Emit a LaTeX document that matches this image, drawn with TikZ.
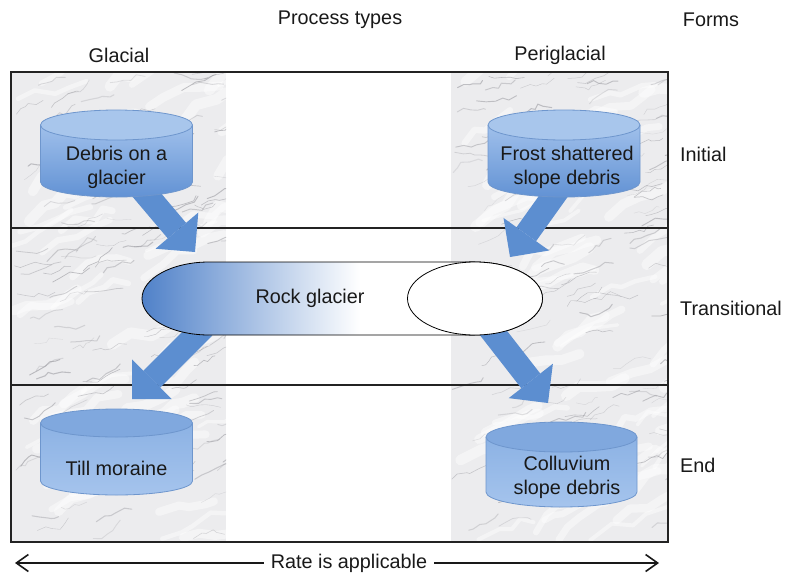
\documentclass[tikz,border=0pt]{standalone}
\usepackage{fontspec}
\setmainfont{Liberation Sans}
\usetikzlibrary{arrows.meta,shapes.geometric}
\definecolor{cyltop}{RGB}{168,198,236}
\definecolor{cyltopB}{RGB}{128,168,222}
\definecolor{cylline}{RGB}{110,150,205}
\definecolor{cylA}{RGB}{160,192,235}
\definecolor{cylB}{RGB}{98,146,212}
\definecolor{cylC}{RGB}{140,178,228}
\definecolor{cylD}{RGB}{165,196,237}
\definecolor{arrowc}{RGB}{92,142,208}
\definecolor{rgdark}{RGB}{78,128,200}
\definecolor{mbase}{RGB}{236,236,238}
\definecolor{mvein}{RGB}{150,150,156}
\definecolor{txt}{RGB}{25,25,25}
\definecolor{frame}{RGB}{35,35,35}
\newcommand\marblecol[4]{%
\begin{scope}
\clip (#1,-#2) rectangle (#3,-#4);
\fill[mbase] (#1,-#2) rectangle (#3,-#4);
\foreach \k in {1,...,60}{%
 \pgfmathsetmacro\sx{#1+(#3-#1)*rnd}%
 \pgfmathsetmacro\sy{-(#2+(#4-#2)*rnd)}%
 \pgfmathsetmacro\lw{3+8*rnd}%
 \draw[white, opacity=0.45, line width=\lw pt, line cap=round, line join=round] (\sx,\sy) -- ++({8+14*rnd},{4+14*rnd}) -- ++({8+14*rnd},{-4+14*rnd}) -- ++({8+14*rnd},{14*rnd}) -- ++({8+14*rnd},{-4+14*rnd});
}
\foreach \k in {1,...,130}{%
 \pgfmathsetmacro\sx{#1+(#3-#1)*rnd}%
 \pgfmathsetmacro\sy{-(#2+(#4-#2)*rnd)}%
 \pgfmathsetmacro\lw{0.3+0.8*rnd}%
 \pgfmathsetmacro\op{0.2+0.4*rnd}%
 \draw[mvein, opacity=\op, line width=\lw pt, line cap=round, line join=round] (\sx,\sy) -- ++({3+7*rnd},{-2+8*rnd}) -- ++({3+7*rnd},{-3+9*rnd}) -- ++({2+7*rnd},{-2+8*rnd}) -- ++({3+7*rnd},{-3+9*rnd}) -- ++({2+7*rnd},{-2+8*rnd});
}
\end{scope}}
% #1 cx, #2 top ellipse centre y, #3 bottom ellipse centre y, #4 rx, #5 ry, #6 end fill, #7 body top, #8 body bottom
\newcommand\drum[8]{%
 \shade[top color=#7, bottom color=#8] (#1-#4,-#2) -- (#1-#4,-#3) arc[start angle=180,end angle=360,x radius=#4,y radius=#5] -- (#1+#4,-#2) -- cycle;
 \draw[cylline, line width=0.8pt] (#1-#4,-#2) -- (#1-#4,-#3) arc[start angle=180,end angle=360,x radius=#4,y radius=#5] -- (#1+#4,-#2);
 \filldraw[fill=#6, draw=cylline, line width=0.8pt] (#1,-#2) ellipse[x radius=#4, y radius=#5];
}
\begin{document}
\begin{tikzpicture}[x=1pt,y=1pt,
  font=\fontsize{19.8}{24}\selectfont, text=txt,
  lbl/.style={inner sep=0pt},
  cyltext/.style={align=center, inner sep=0pt},
  blockarrow/.style={draw=arrowc, line width=24pt, -{Triangle[length=28pt,width=56pt,line width=0pt]}},
  ratearrow/.style={draw=txt, line width=1.6pt, -{Straight Barb[length=12pt,width=17pt]}},
  gridline/.style={draw=frame, line width=1.5pt}]
\useasboundingbox (0,0) rectangle (785,-576);
\fill[white] (0,0) rectangle (785,-576);
\pgfmathsetseed{4711}
\marblecol{11}{72}{226}{542}
\marblecol{451}{72}{668}{542}
% frame
\draw[gridline] (11,-72) rectangle (668,-542);
\draw[gridline] (11,-228) -- (668,-228);
\draw[gridline] (11,-385) -- (668,-385);
% named anchors for the shapes
\node[cyltext] (debris) at (116.5,-167.5) {};
\node[cyltext] (frost) at (567,-167.5) {};
\node[cyltext] (rock) at (310,-298.5) {};
\node[draw=black, line width=0.8pt, fill=white, ellipse, minimum width=135pt, minimum height=73pt, inner sep=0pt] (rgend) at (475,-298.5) {};
\coordinate (t1) at (195,-252);
\coordinate (t2) at (510,-257);
\coordinate (t3) at (132,-399);
\coordinate (t4) at (548,-403);
% arrows
\draw[blockarrow] ([xshift=23.5pt,yshift=-19.5pt]debris.center) -- (t1);
\draw[blockarrow] ([xshift=-7pt,yshift=-19.5pt]frost.center) -- (t2);
\draw[blockarrow] ([xshift=-106pt,yshift=-28.5pt]rock.center) -- (t3);
\draw[blockarrow] ([xshift=13pt,yshift=-27.5pt]rgend.center) -- (t4);
% cylinders
\drum{116.5}{125}{182}{76}{15}{cyltop}{cylA}{cylB}
\drum{564}{125}{182}{76}{15}{cyltop}{cylA}{cylB}
\drum{116.5}{423}{481}{76}{14}{cyltopB}{cylC}{cylD}
\drum{561.5}{437}{492}{75.5}{15}{cyltopB}{cylC}{cylD}
% rock glacier
\begin{scope}
\clip (475,-262) -- (209,-262) arc[start angle=90,end angle=270,x radius=67,y radius=36.5] -- (475,-335) -- cycle;
\fill[white] (140,-260) rectangle (480,-337);
\shade[left color=rgdark, right color=white] (140,-260) rectangle (360,-337);
\end{scope}
\draw[black, line width=0.8pt] (475,-262) -- (209,-262) arc[start angle=90,end angle=270,x radius=67,y radius=36.5] -- (475,-335);
\node[draw=black, line width=0.8pt, fill=white, ellipse, minimum width=135pt, minimum height=73pt, inner sep=0pt] at (rgend.center) {};
% texts
\node[cyltext] at (debris.center) {Debris on a\\glacier};
\node[cyltext] at (frost.center) {Frost shattered\\slope debris};
\node[cyltext] at (rock.center) {Rock glacier};
\node[cyltext] (till) at (116.5,-468) {Till moraine};
\node[cyltext] (coll) at (567,-477.5) {Colluvium\\slope debris};
\node[lbl] (ptypes) at (340,-20) {Process types};
\node[lbl] (forms) at (711,-20) {Forms};
\node[lbl] (glacial) at (119,-55) {Glacial};
\node[lbl] (periglacial) at (560,-55) {Periglacial};
\node[lbl, anchor=west] (initial) at (680,-154) {Initial};
\node[lbl, anchor=west] (transitional) at (680,-308) {Transitional};
\node[lbl, anchor=west] (endf) at (680,-465) {End};
\node[inner sep=7pt] (rate) at (349,-563) {Rate is applicable};
\coordinate (rl) at (15,-563);
\coordinate (rr) at (659,-563);
\draw[ratearrow] (rate.west) -- (rl);
\draw[ratearrow] (rate.east) -- (rr);
\end{tikzpicture}
\end{document}
